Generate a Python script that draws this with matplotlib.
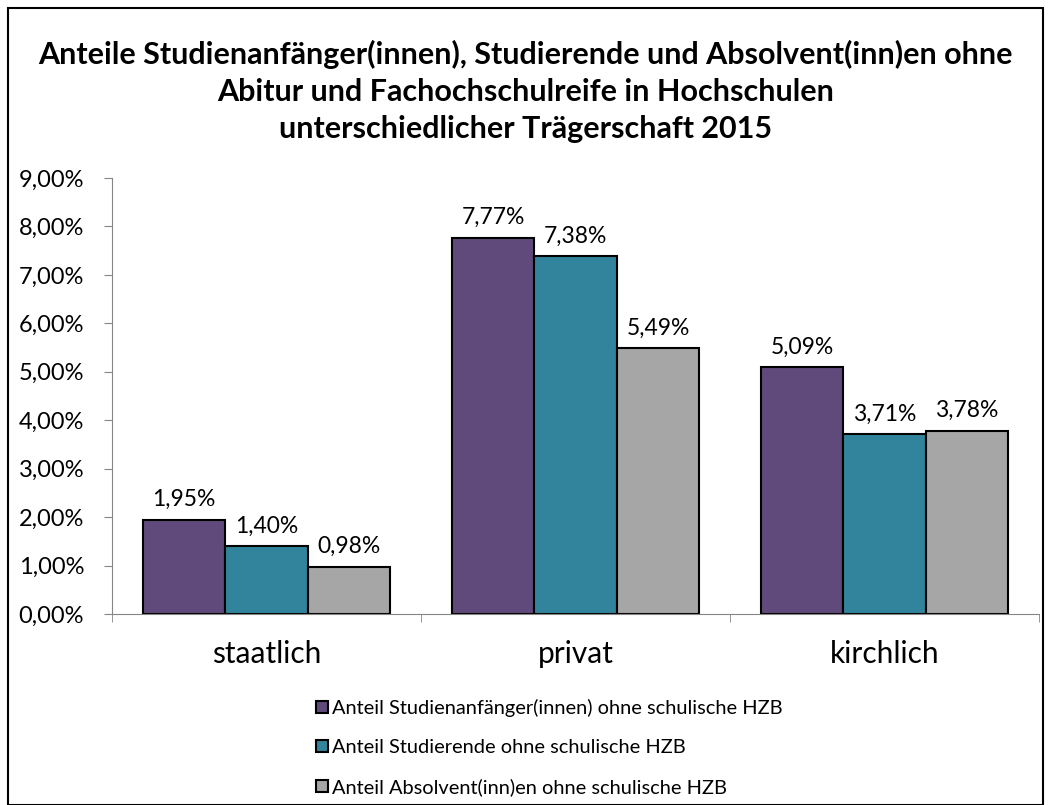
import matplotlib.pyplot as plt
import numpy as np
from matplotlib.patches import Rectangle
from matplotlib.ticker import FuncFormatter

plt.rcParams['font.family'] = ['Lato', 'DejaVu Sans']

# Daten
kategorien = ['staatlich', 'privat', 'kirchlich']
anfaenger = [1.95, 7.77, 5.09]
studierende = [1.40, 7.38, 3.71]
absolventen = [0.98, 5.49, 3.78]
serien = [
    ('Anteil Studienanfänger(innen) ohne schulische HZB', anfaenger, '#604A7B'),
    ('Anteil Studierende ohne schulische HZB', studierende, '#31849B'),
    ('Anteil Absolvent(inn)en ohne schulische HZB', absolventen, '#A6A6A6'),
]
titel = ('Anteile Studienanfänger(innen), Studierende und Absolvent(inn)en ohne\n'
         'Abitur und Fachochschulreife in Hochschulen\n'
         'unterschiedlicher Trägerschaft 2015')

fig = plt.figure(figsize=(10.51, 8.05), dpi=100)
W, H = 1051, 805

# Rahmen um die ganze Grafik
fig.patches.append(Rectangle((8 / W, 0), (1043 - 8) / W, (805 - 8) / H,
                             transform=fig.transFigure, fill=False,
                             edgecolor='black', linewidth=1.5))

ax = fig.add_axes([112 / W, 1 - 614 / H, (1039 - 112) / W, (614 - 178) / H])

x = np.arange(len(kategorien))
breite = 0.267
for i, (name, werte, farbe) in enumerate(serien):
    pos = x + (i - 1) * breite
    ax.bar(pos, werte, breite, color=farbe, edgecolor='black', linewidth=1.5,
           label=name)
    for p, v in zip(pos, werte):
        ax.text(p, v + 0.2, f'{v:.2f}%'.replace('.', ','), ha='center',
                va='bottom', fontsize=16.5)

ax.set_xlim(-0.5, len(kategorien) - 0.5)
ax.set_ylim(0, 9)
ax.set_yticks(np.arange(0, 10, 1))
ax.yaxis.set_major_formatter(FuncFormatter(lambda v, _: f'{v:.2f}%'.replace('.', ',')))
ax.set_xticks(x)
ax.set_xticklabels(kategorien, fontsize=21.5)
ax.set_xticks(np.arange(-0.5, len(kategorien)), minor=True)
ax.tick_params(axis='x', which='major', length=0, pad=19)
ax.tick_params(axis='x', which='minor', length=6, color='#868686', direction='out')
ax.tick_params(axis='y', length=6, color='#868686', labelsize=17, pad=14)

for s in ['top', 'right']:
    ax.spines[s].set_visible(False)
for s in ['left', 'bottom']:
    ax.spines[s].set_color('#868686')

fig.text(0.5, 1 - 40 / H, titel, ha='center', va='top', fontsize=22,
         fontweight='bold', linespacing=1.4)

leg = fig.legend(loc='upper left', bbox_to_anchor=(298 / W, 1 - 681 / H),
                 frameon=False, fontsize=14.4, handlelength=0.6,
                 handleheight=0.6, handletextpad=0.2, labelspacing=1.1)

fig.savefig('out.png', dpi=100)
